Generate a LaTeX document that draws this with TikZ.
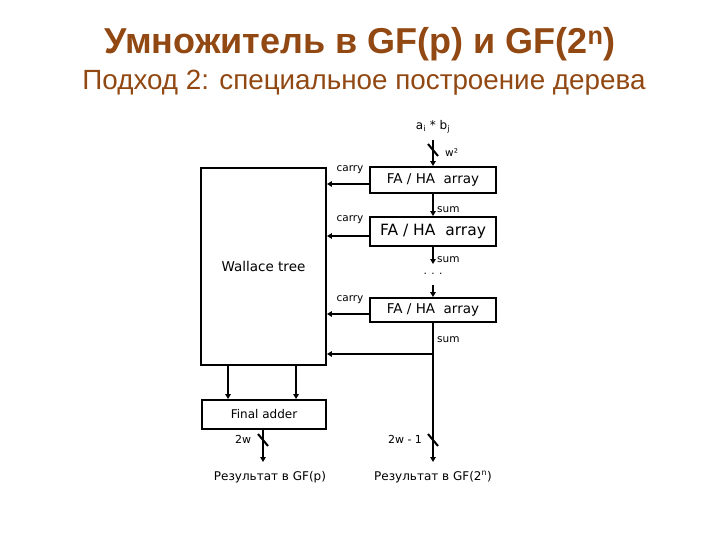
\documentclass[tikz,border=0pt]{standalone}
\usepackage{fontspec}
\setmainfont{Liberation Sans}
\newfontfamily\diag{DejaVu Sans}
\usetikzlibrary{arrows.meta,calc}
\definecolor{titlebrown}{RGB}{145,72,18}
\begin{document}
\begin{tikzpicture}[x=1pt,y=-1pt,
  box/.style={draw,line width=1.9pt,inner sep=0pt,font=\diag\fontsize{13.5}{15}\selectfont},
  lbl/.style={inner sep=0pt,font=\diag\fontsize{10.5}{12}\selectfont},
  txt/.style={inner sep=0pt,font=\diag\fontsize{12}{14}\selectfont},
  arr/.style={line width=1.9pt,-{Triangle[length=5pt,width=5.5pt]}},
  slash/.style={line width=2pt}]
\useasboundingbox (0,0) rectangle (720,540);
% titles
\node[font=\bfseries\fontsize{36}{42}\selectfont,text=titlebrown] (title) at (360,44) {Умножитель в GF(p) и GF(2\textsuperscript{n})};
\node[font=\fontsize{27.8}{33}\selectfont,text=titlebrown] (sub) at (364,83) {Подход 2: специальное построение дерева};
% boxes
\node[box,minimum width=125,minimum height=197] (wt) at (263.5,266.5) {\raisebox{-2pt}{Wallace tree}};
\node[box,minimum width=126,minimum height=26] (fa1) at (433,180) {FA / HA~ array};
\node[box,minimum width=126,minimum height=29,font=\diag\fontsize{15.5}{17}\selectfont] (fa2) at (433,231.5) {FA / HA~ array};
\node[box,minimum width=126,minimum height=24] (fa3) at (433,310) {FA / HA~ array};
\node[box,minimum width=124,minimum height=29,font=\diag\fontsize{12}{14}\selectfont] (fin) at (264,414.5) {Final adder};
% input
\node[txt] (ab) at (433,127) {a\textsubscript{i} * b\textsubscript{j}};
\coordinate (in) at (433,140);
\draw[arr] (in) -- (fa1.north);
\draw[slash] (428,144) -- (438,156);
\node[lbl,anchor=west] (w2) at (445,153) {w²};
% sums
\draw[arr] (fa1.south) -- (fa2.north);
\node[lbl,anchor=west] (s1) at (437,210) {sum};
\coordinate (d1) at (433,264);
\draw[arr] (fa2.south) -- (d1);
\node[lbl,anchor=west] (s2) at (437,260) {sum};
\node[lbl] (dots) at (433,274) {. . .};
\coordinate (d2) at (433,285);
\draw[arr] (d2) -- (fa3.north);
\node[lbl,anchor=west] (s3) at (437,340) {sum};
\coordinate (j) at (433,354);
\coordinate (r2) at (433,462);
\draw[arr] (fa3.south) -- (r2);
\draw[arr] (j) -- (j -| wt.east);
% carries
\draw[arr] ([yshift=-4pt]fa1.west) -- ([yshift=-4pt]fa1.west -| wt.east);
\draw[arr] ([yshift=-4.5pt]fa2.west) -- ([yshift=-4.5pt]fa2.west -| wt.east);
\draw[arr] ([yshift=-4pt]fa3.west) -- ([yshift=-4pt]fa3.west -| wt.east);
\node[lbl] (c1) at (350,170) {carry};
\node[lbl] (c2) at (350,220) {carry};
\node[lbl] (c3) at (350,300) {carry};
% wallace to final adder
\draw[arr] ([xshift=28pt]wt.south west) -- ([xshift=28pt]wt.south west |- fin.north);
\draw[arr] ([xshift=96pt]wt.south west) -- ([xshift=96pt]wt.south west |- fin.north);
% outputs
\coordinate (r1) at (263,462);
\draw[arr] (fin.south -| r1) -- (r1);
\draw[slash] (258,434) -- (268,446);
\draw[slash] (428,434) -- (438,446);
\node[lbl,font=\diag\fontsize{11}{13}\selectfont] (w2a) at (243,439) {2w};
\node[lbl,font=\diag\fontsize{11}{13}\selectfont] (w2b) at (405,439) {2w - 1};
\node[txt] (res1) at (270,477) {Результат в GF(p)};
\node[txt] (res2) at (433,477) {Результат в GF(2\textsuperscript{n})};
\end{tikzpicture}
\end{document}
